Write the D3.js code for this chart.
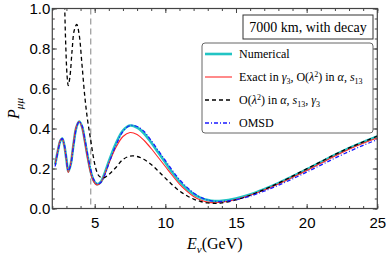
<!DOCTYPE html>
<html>
<head>
<meta charset="utf-8">
<script src="https://cdn.jsdelivr.net/npm/d3@7"></script>
<style>
  body { margin: 0; background: #fff; }
  svg { display: block; font-family: "Liberation Serif", "DejaVu Serif", serif; }
</style>
</head>
<body>
<div id="chart"></div>
<script>
// Size of the picture and of the plot frame
const width = 387;
const height = 259;
const margin = {left: 52.3, right: 9.7, top: 8.5, bottom: 50.5};

// Energies (GeV) for the numerical, exact and OMSD curves
const energy = [2.2, 2.4, 2.55, 2.7, 2.85, 3.0, 3.13, 3.3, 3.5, 3.7,
  3.9, 4.1, 4.3, 4.5, 4.7, 4.9, 5.15, 5.4, 5.7, 6.0,
  6.5, 7.0, 7.5, 8.0, 8.5, 9.0, 9.5, 10, 10.5, 11,
  11.5, 12, 12.5, 13, 13.5, 14, 15, 16, 17, 18,
  19, 20, 21, 22, 23, 24, 25];

const numerical = [0.22, 0.29, 0.335, 0.35, 0.315, 0.245, 0.185, 0.22, 0.32, 0.405,
  0.435, 0.41, 0.34, 0.26, 0.19, 0.145, 0.122, 0.13, 0.175, 0.235,
  0.325, 0.39, 0.415, 0.405, 0.375, 0.33, 0.28, 0.23, 0.18, 0.135,
  0.1, 0.072, 0.053, 0.042, 0.037, 0.038, 0.05, 0.07, 0.097, 0.127,
  0.16, 0.195, 0.232, 0.268, 0.302, 0.332, 0.36];

const exact = [0.22, 0.295, 0.34, 0.35, 0.31, 0.24, 0.18, 0.225, 0.33, 0.41,
  0.435, 0.405, 0.33, 0.25, 0.18, 0.138, 0.118, 0.127, 0.17, 0.225,
  0.305, 0.36, 0.38, 0.37, 0.34, 0.3, 0.255, 0.21, 0.165, 0.122,
  0.088, 0.06, 0.042, 0.032, 0.029, 0.031, 0.045, 0.066, 0.093, 0.123,
  0.156, 0.19, 0.226, 0.262, 0.296, 0.326, 0.352];

const omsd = [0.21, 0.285, 0.33, 0.35, 0.32, 0.25, 0.19, 0.215, 0.31, 0.4,
  0.435, 0.415, 0.35, 0.27, 0.2, 0.15, 0.125, 0.128, 0.165, 0.225,
  0.315, 0.385, 0.415, 0.41, 0.385, 0.34, 0.29, 0.24, 0.19, 0.145,
  0.108, 0.078, 0.056, 0.043, 0.036, 0.035, 0.044, 0.062, 0.087, 0.116,
  0.148, 0.182, 0.217, 0.252, 0.285, 0.316, 0.344];

// The O(lambda^2) curve has its own energy grid (it leaves the top of the plot)
const energyB = [2.7, 2.85, 2.95, 3.05, 3.13, 3.25, 3.4, 3.55, 3.73, 3.9,
  4.1, 4.3, 4.5, 4.7, 4.9, 5.1, 5.3, 5.6, 6.0, 6.5,
  7.0, 7.5, 8.0, 8.5, 9.0, 9.5, 10, 10.5, 11, 11.5,
  12, 12.5, 13, 13.6, 14, 15, 16, 17, 18, 19,
  20, 21, 22, 23, 24, 25];

const second = [1.4, 1.08, 0.82, 0.66, 0.615, 0.66, 0.79, 0.89, 0.92, 0.87,
  0.72, 0.56, 0.44, 0.35, 0.26, 0.195, 0.163, 0.152, 0.17, 0.205,
  0.245, 0.262, 0.26, 0.245, 0.22, 0.187, 0.152, 0.118, 0.088, 0.065,
  0.047, 0.035, 0.028, 0.026, 0.028, 0.043, 0.066, 0.095, 0.127, 0.162,
  0.198, 0.234, 0.27, 0.303, 0.333, 0.362];

// Axis ticks
const xTicks = [5, 10, 15, 20, 25];
const yTicks = [0.0, 0.2, 0.4, 0.6, 0.8, 1.0];
const markerE = 4.72; // gray vertical marker

const svg = d3.select("#chart")
  .append("svg")
  .attr("width", width)
  .attr("height", height);

const x = d3.scaleLinear().domain([2, 25]).range([margin.left, width - margin.right]);
const y = d3.scaleLinear().domain([0, 1]).range([height - margin.bottom, margin.top]);

svg.append("clipPath").attr("id", "clip")
  .append("rect")
  .attr("x", margin.left).attr("y", margin.top)
  .attr("width", x.range()[1] - margin.left)
  .attr("height", y.range()[0] - margin.top);

const frameColor = "#444";

// Frame ticks on all four sides, pointing inward
function tickAxis(axis, transform, size, values, labels) {
  const g = svg.append("g")
    .attr("transform", transform)
    .call(axis.tickValues(values).tickSize(size).tickPadding(labels ? 5 : 0)
      .tickFormat(labels || (() => "")));
  g.select(".domain").remove();
  g.selectAll(".tick line").attr("stroke", frameColor);
  return g;
}

const xMinor = d3.range(2, 25.01, 1);
const yMinor = d3.range(0, 1.001, 0.05);
const bottomY = y(0), topY = y(1), leftX = x(2), rightX = x(25);

tickAxis(d3.axisBottom(x), `translate(0,${bottomY})`, -2.5, xMinor);
tickAxis(d3.axisTop(x), `translate(0,${topY})`, -2.5, xMinor);
tickAxis(d3.axisLeft(y), `translate(${leftX},0)`, -2.5, yMinor);
tickAxis(d3.axisRight(y), `translate(${rightX},0)`, -2.5, yMinor);

const xAxis = tickAxis(d3.axisBottom(x), `translate(0,${bottomY})`, -4.5, xTicks, d => d);
xAxis.selectAll("text").attr("font-size", 15).attr("fill", "#000")
  .attr("y", 9);
tickAxis(d3.axisTop(x), `translate(0,${topY})`, -4.5, xTicks);
const yAxis = tickAxis(d3.axisLeft(y), `translate(${leftX},0)`, -4.5, yTicks, d => d3.format(".1f")(d));
yAxis.selectAll("text").attr("font-size", 15).attr("fill", "#000").attr("x", -2);
tickAxis(d3.axisRight(y), `translate(${rightX},0)`, -4.5, yTicks);

// Gray dashed marker
svg.append("line")
  .attr("x1", x(markerE)).attr("x2", x(markerE))
  .attr("y1", topY).attr("y2", bottomY)
  .attr("stroke", "#999").attr("stroke-width", 1.2)
  .attr("stroke-dasharray", "6,4");

// Curves
const plot = svg.append("g").attr("clip-path", "url(#clip)");
const line = d3.line()
  .x(d => x(d[0])).y(d => y(d[1]))
  .curve(d3.curveCatmullRom.alpha(0.5));

const series = [
  {e: energy, v: numerical, color: "#22c4c4", w: 2.6, dash: null},
  {e: energy, v: exact, color: "#ff2a2a", w: 1.1, dash: null},
  {e: energyB, v: second, color: "#000", w: 1.3, dash: "4,3"},
  {e: energy, v: omsd, color: "#1a1aff", w: 1.3, dash: "4,2,1,2"}
];

series.forEach(s => {
  plot.append("path")
    .datum(d3.zip(s.e, s.v))
    .attr("fill", "none")
    .attr("stroke", s.color)
    .attr("stroke-width", s.w)
    .attr("stroke-dasharray", s.dash)
    .attr("d", line);
});

// Frame
svg.append("rect")
  .attr("x", leftX).attr("y", topY)
  .attr("width", rightX - leftX).attr("height", bottomY - topY)
  .attr("fill", "none").attr("stroke", frameColor).attr("stroke-width", 1.2);

// Axis titles
svg.append("text")
  .attr("transform", `translate(19,${(topY + bottomY) / 2}) rotate(-90)`)
  .attr("text-anchor", "middle").attr("font-size", 16)
  .html('<tspan font-style="italic">P</tspan><tspan font-style="italic" font-size="11" dy="4">μμ</tspan>');

svg.append("text")
  .attr("x", (leftX + rightX) / 2).attr("y", 249)
  .attr("text-anchor", "middle").attr("font-size", 16)
  .html('<tspan font-style="italic">E</tspan><tspan font-style="italic" font-size="11" dy="4">ν</tspan><tspan dy="-4">(GeV)</tspan>');

// Title box
svg.append("rect")
  .attr("x", 243).attr("y", 15).attr("width", 130).attr("height", 24)
  .attr("fill", "#fff").attr("stroke", "#333").attr("stroke-width", 1);
svg.append("text")
  .attr("x", 308).attr("y", 32).attr("text-anchor", "middle").attr("font-size", 14)
  .text("7000 km, with decay");

// Legend
svg.append("rect")
  .attr("x", 202).attr("y", 43).attr("width", 171).attr("height", 90)
  .attr("rx", 3).attr("fill", "#fff").attr("stroke", "#666").attr("stroke-width", 1);

const legendLabels = [
  'Numerical',
  'Exact in <tspan font-style="italic">γ</tspan><tspan font-size="8" dy="2.5">3</tspan><tspan dy="-2.5">, O(</tspan><tspan font-style="italic">λ</tspan><tspan font-size="8" dy="-4">2</tspan><tspan dy="4">) in </tspan><tspan font-style="italic">α</tspan>, <tspan font-style="italic">s</tspan><tspan font-size="8" dy="2.5">13</tspan>',
  'O(<tspan font-style="italic">λ</tspan><tspan font-size="8" dy="-4">2</tspan><tspan dy="4">) in </tspan><tspan font-style="italic">α</tspan>, <tspan font-style="italic">s</tspan><tspan font-size="8" dy="2.5">13</tspan><tspan dy="-2.5">, </tspan><tspan font-style="italic">γ</tspan><tspan font-size="8" dy="2.5">3</tspan>',
  'OMSD'
];

series.forEach((s, i) => {
  const ly = 54 + i * 23;
  svg.append("line")
    .attr("x1", 205).attr("x2", 232).attr("y1", ly).attr("y2", ly)
    .attr("stroke", s.color).attr("stroke-width", s.w)
    .attr("stroke-dasharray", s.dash);
  svg.append("text")
    .attr("x", 239).attr("y", ly + 4).attr("font-size", 12)
    .html(legendLabels[i]);
});
</script>
</body>
</html>
